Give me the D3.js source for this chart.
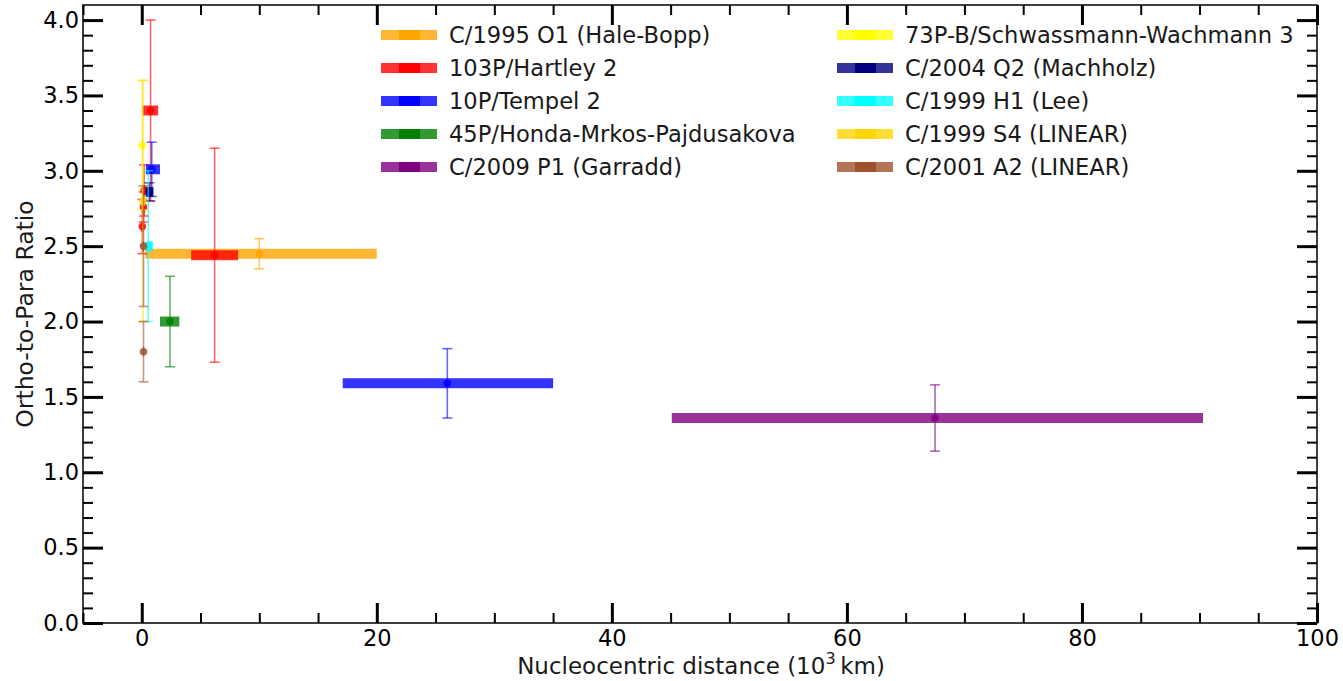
<!DOCTYPE html>
<html>
<head>
<meta charset="utf-8">
<script src="https://cdn.jsdelivr.net/npm/d3@7"></script>
<style>
  body { margin: 0; background: #fff; }
  svg { font-family: "DejaVu Sans", sans-serif; }
</style>
</head>
<body>
<div id="chart"></div>
<script>
// comets, in legend order
const comets = [
  "C/1995 O1 (Hale-Bopp)", "103P/Hartley 2", "10P/Tempel 2",
  "45P/Honda-Mrkos-Pajdusakova", "C/2009 P1 (Garradd)",
  "73P-B/Schwassmann-Wachmann 3", "C/2004 Q2 (Machholz)", "C/1999 H1 (Lee)",
  "C/1999 S4 (LINEAR)", "C/2001 A2 (LINEAR)"
];
const cometColors = ["#ffa500", "#ff0000", "#0000ff", "#008000", "#800080",
  "#ffff00", "#000080", "#00ffff", "#ffd700", "#a0522d"];

// one entry per measurement
const obsComet = [0, 1, 1, 1, 1, 1, 2, 2, 3, 4, 5, 6, 7, 8, 9, 9];
const obsX     = [10, 6.2, 0.75, 0.2, 0.15, 0.05, 26, 0.85, 2.4, 67.5, 0.05, 0.65, 0.55, 0.1, 0.15, 0.15];
const obsXmin  = [0.3, 4.2, 0.05, 0.05, 0.0, -0.05, 17.1, 0.35, 1.55, 45.1, 0.0, 0.33, 0.35, 0.0, 0.1, 0.1];
const obsXmax  = [20, 8.2, 1.4, 0.35, 0.3, 0.15, 35, 1.55, 3.2, 90.3, 0.1, 1.0, 0.95, 0.3, 0.2, 0.2];
const obsY     = [2.45, 2.44, 3.40, 2.87, 2.76, 2.63, 1.59, 3.01, 2.0, 1.36, 3.17, 2.86, 2.5, 2.8, 2.5, 1.8];
const obsYerr  = [0.1, 0.71, 0.6, 0.17, 0.1, 0.18, 0.23, 0.18, 0.3, 0.22, 0.43, 0.06, 0.5, 0.8, 0.4, 0.2];

const xMajor = [0, 20, 40, 60, 80, 100];
const yMajor = [0, 0.5, 1, 1.5, 2, 2.5, 3, 3.5, 4];

const W = 1343, H = 681;
const m = { left: 83, right: 26, top: 5, bottom: 58 };

const svg = d3.select("#chart").append("svg")
  .attr("width", W).attr("height", H);

const x = d3.scaleLinear().domain([-5, 100]).range([m.left, W - m.right]);
const y = d3.scaleLinear().domain([0, 4.1]).range([H - m.bottom, m.top]);

const xMinor = d3.range(-5, 101, 5).filter(v => !xMajor.includes(v));
const yMinor = d3.range(0, 41).map(v => v / 10).filter(v => !yMajor.some(t => Math.abs(t - v) < 1e-9));

const g = svg.append("g");

// ticks on all four sides, pointing inward
function ticks(axisFn, scale, vals, size, width, transform, labels) {
  const a = axisFn(scale).tickValues(vals).tickSize(-size).tickPadding(labels ? labels.pad : 0)
    .tickFormat(labels ? labels.fmt : () => "");
  const sel = g.append("g").attr("transform", transform).call(a);
  sel.select(".domain").remove();
  sel.selectAll(".tick line").attr("stroke", "#000").attr("stroke-width", width);
  sel.selectAll(".tick text").attr("font-size", 22.5).attr("font-family", "DejaVu Sans").attr("fill", "#000");
  return sel;
}
const bottomY = H - m.bottom, rightX = W - m.right;
ticks(d3.axisBottom, x, xMinor, 10, 2, `translate(0,${bottomY})`);
ticks(d3.axisTop, x, xMinor, 10, 2, `translate(0,${m.top})`);
ticks(d3.axisLeft, y, yMinor, 10, 2, `translate(${m.left},0)`);
ticks(d3.axisRight, y, yMinor, 10, 2, `translate(${rightX},0)`);
ticks(d3.axisBottom, x, xMajor, 20, 3, `translate(0,${bottomY})`, { pad: 7, fmt: d3.format("d") });
ticks(d3.axisTop, x, xMajor, 20, 3, `translate(0,${m.top})`);
ticks(d3.axisLeft, y, yMajor, 20, 3, `translate(${m.left},0)`, { pad: 4, fmt: d3.format(".1f") });
ticks(d3.axisRight, y, yMajor, 20, 3, `translate(${rightX},0)`);

// measurements
const obs = obsX.map((v, i) => ({
  c: obsComet[i], x: v, x0: obsXmin[i], x1: obsXmax[i], y: obsY[i], e: obsYerr[i]
}));

const marks = g.append("g");
obs.forEach(d => {
  const col = cometColors[d.c];
  // horizontal extent
  marks.append("line")
    .attr("x1", x(d.x0)).attr("x2", x(d.x1))
    .attr("y1", y(d.y)).attr("y2", y(d.y))
    .attr("stroke", col).attr("stroke-width", 10).attr("stroke-opacity", 0.8);
  // vertical error bar with caps
  const eb = marks.append("g").attr("stroke", col).attr("stroke-width", 1.6).attr("stroke-opacity", 0.6);
  eb.append("line").attr("x1", x(d.x)).attr("x2", x(d.x))
    .attr("y1", y(d.y - d.e)).attr("y2", y(d.y + d.e));
  [d.y - d.e, d.y + d.e].forEach(v => {
    eb.append("line").attr("x1", x(d.x) - 5).attr("x2", x(d.x) + 5)
      .attr("y1", y(v)).attr("y2", y(v));
  });
  marks.append("circle").attr("cx", x(d.x)).attr("cy", y(d.y)).attr("r", 3.8)
    .attr("fill", col).attr("fill-opacity", 0.85);
});

// frame
g.append("rect")
  .attr("x", m.left).attr("y", m.top)
  .attr("width", rightX - m.left).attr("height", bottomY - m.top)
  .attr("fill", "none").attr("stroke", "#000").attr("stroke-width", 1.5);

// legend: two columns of five
const legend = svg.append("g").attr("font-size", 22.6);
comets.forEach((name, i) => {
  const col = i < 5 ? 0 : 1;
  const row = i % 5;
  const lx = col === 0 ? 381 : 837;
  const ly = 35 + row * 33;
  legend.append("line").attr("x1", lx).attr("x2", lx + 56).attr("y1", ly).attr("y2", ly)
    .attr("stroke", cometColors[i]).attr("stroke-width", 10).attr("stroke-opacity", 0.8);
  legend.append("rect").attr("x", lx + 18).attr("y", ly - 5).attr("width", 21).attr("height", 10)
    .attr("fill", cometColors[i]);
  legend.append("text").attr("x", lx + 68).attr("y", ly + 8).attr("fill", "#1a1a1a").text(name);
});

// axis titles
const xt = svg.append("text").attr("x", 701).attr("y", 674)
  .attr("text-anchor", "middle").attr("font-size", 23).attr("fill", "#1a1a1a");
xt.append("tspan").text("Nucleocentric distance (10");
xt.append("tspan").attr("font-size", 16).attr("dy", -10).text("3");
xt.append("tspan").attr("dy", 10).text("\u2009km)");

svg.append("text")
  .attr("transform", `translate(33,${(m.top + bottomY) / 2}) rotate(-90)`)
  .attr("text-anchor", "middle").attr("font-size", 23.5).attr("fill", "#1a1a1a")
  .text("Ortho-to-Para Ratio");
</script>
</body>
</html>
